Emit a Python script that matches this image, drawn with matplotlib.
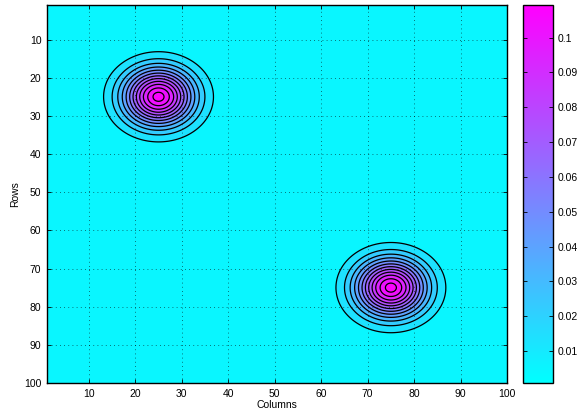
import numpy as np
import matplotlib
matplotlib.use('Agg')
import matplotlib.pyplot as plt
from matplotlib import cm, colors

plt.rcParams['font.family'] = ['Liberation Sans', 'DejaVu Sans']

# grid size (rows x columns) and the two gaussian bumps
n_rows = 100
n_cols = 100
peak_cols = [25, 75]
peak_rows = [25, 75]
peak_height = 0.1085
peak_sigma = 5.2
base_level = 0.0008

contour_levels = [0.009, 0.018, 0.027, 0.036, 0.045, 0.054,
                  0.063, 0.072, 0.081, 0.090, 0.099, 0.1065]
x_ticks = [10, 20, 30, 40, 50, 60, 70, 80, 90, 100]
y_ticks = [10, 20, 30, 40, 50, 60, 70, 80, 90, 100]
cbar_ticks = [0.01, 0.02, 0.03, 0.04, 0.05, 0.06, 0.07, 0.08, 0.09, 0.1]
cbar_labels = ['0.01', '0.02', '0.03', '0.04', '0.05', '0.06', '0.07', '0.08', '0.09', '0.1']

# sample finer than one cell so the rings come out smooth
cols = np.linspace(1, n_cols, 397)
rows = np.linspace(1, n_rows, 397)
X, Y = np.meshgrid(cols, rows)
Z = np.full(X.shape, base_level)
for cx, cy in zip(peak_cols, peak_rows):
    Z += peak_height * np.exp(-((X - cx) ** 2 + (Y - cy) ** 2) / (2 * peak_sigma ** 2))

zmin, zmax = Z.min(), Z.max()
norm = colors.Normalize(vmin=zmin, vmax=zmax)
cmap = plt.get_cmap('cool')

fig = plt.figure(figsize=(5.78, 4.17), dpi=100)
ax = fig.add_axes([0.0813, 0.0815, 0.796, 0.906])
cax = fig.add_axes([0.905, 0.0815, 0.052, 0.906])

fill_levels = [zmin] + contour_levels + [zmax + 1e-9]
ax.contourf(X, Y, Z, levels=fill_levels, cmap=cmap, norm=norm)
ax.contour(X, Y, Z, levels=contour_levels, colors='k', linewidths=0.9)

ax.set_xlim(1, n_cols)
ax.set_ylim(n_rows, 1)
ax.set_xticks(x_ticks)
ax.set_yticks(y_ticks)
ax.tick_params(direction='in', length=3, width=0.6, labelsize=7.5,
               top=True, right=True, pad=4)
ax.grid(True, color='k', linestyle=(0, (1, 4)), linewidth=0.6, alpha=0.7)
ax.set_xlabel('Columns', fontsize=7.5, labelpad=1)
ax.set_ylabel('Rows', fontsize=7.5, labelpad=3)
for s in ax.spines.values():
    s.set_linewidth(1.0)

sm = cm.ScalarMappable(norm=norm, cmap=cmap)
cb = fig.colorbar(sm, cax=cax)
cb.set_ticks(cbar_ticks)
cb.set_ticklabels(cbar_labels)
cax.tick_params(direction='in', length=3, width=0.6, labelsize=7.5,
                left=True, right=True, pad=3)
cb.outline.set_linewidth(1.0)

fig.savefig('out.png', dpi=100)
